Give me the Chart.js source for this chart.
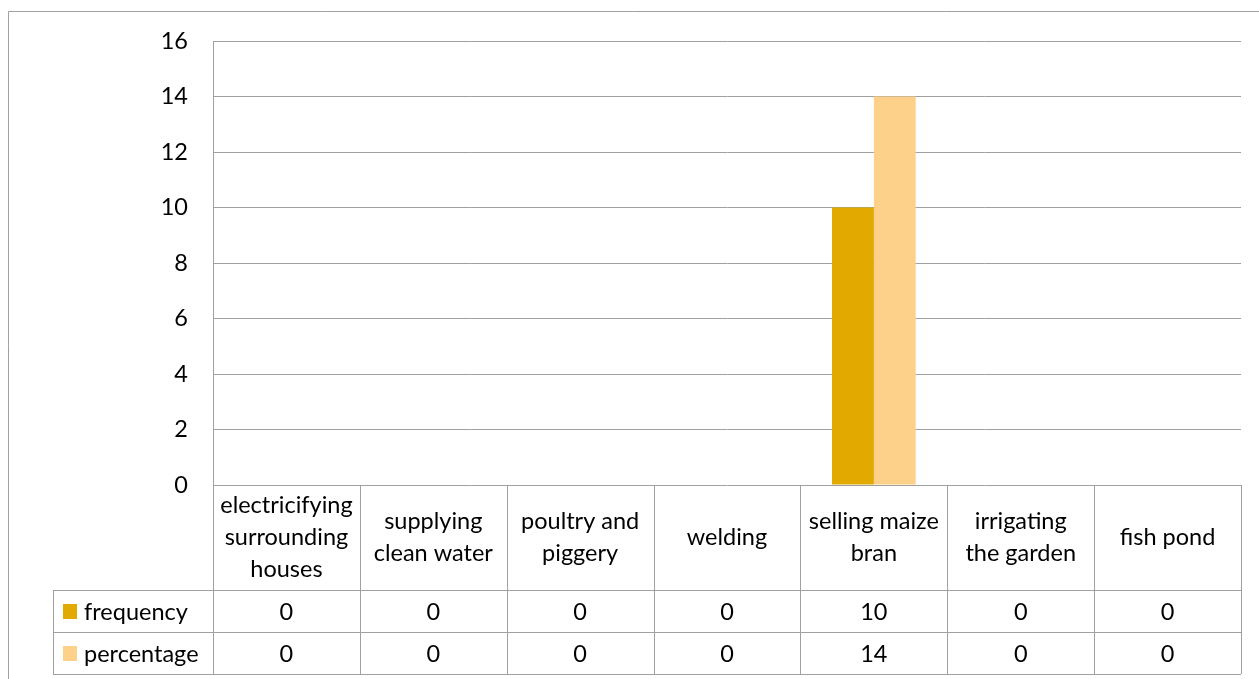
<!DOCTYPE html>
<html>
<head>
<meta charset="utf-8">
<script src="https://cdn.jsdelivr.net/npm/chart.js@4.4.1/dist/chart.umd.min.js"></script>
<style>
  html, body { margin: 0; padding: 0; background: #fff; overflow: hidden; }
  #wrap { position: relative; width: 1259px; height: 679px; }
</style>
</head>
<body>
<div id="wrap"><canvas id="chart" width="1259" height="679"></canvas></div>
<script>
// categories (line-wrapped as in the data table header)
const categories = [
    ['electricifying', 'surrounding', 'houses'],
    ['supplying', 'clean water'],
    ['poultry and', 'piggery'],
    ['welding'],
    ['selling maize', 'bran'],
    ['irrigating', 'the garden'],
    ['fish pond']
];
const seriesNames = ['frequency', 'percentage'];
const frequency = [0, 0, 0, 0, 10, 0, 0];
const percentage = [0, 0, 0, 0, 14, 0, 0];
const seriesColors = ['#E2A900', '#FED18A'];
const yTicks = [0, 2, 4, 6, 8, 10, 12, 14, 16];

const FONT = 'Lato, "Open Sans", sans-serif';
const FONT_SIZE = 23.5;
const LINE = '#A0A0A0';

// Draws the frame and the data table under the plot
const dataTable = {
    id: 'dataTable',
    afterDraw(chart) {
        const ctx = chart.ctx;
        const x = chart.scales.x;
        const area = chart.chartArea;
        const n = categories.length;
        const step = (area.right - area.left) / n;
        const headTop = area.bottom;
        const headBottom = headTop + 105;
        const rowH = 42;
        const legendLeft = 53;
        const tableBottom = headBottom + rowH * 2;

        ctx.save();
        ctx.strokeStyle = LINE;
        ctx.lineWidth = 1;

        // outer frame
        ctx.beginPath();
        ctx.moveTo(8.5, 679);
        ctx.lineTo(8.5, 11.5);
        ctx.lineTo(1259, 11.5);
        ctx.stroke();

        ctx.beginPath();
        // column lines
        for (let i = 0; i <= n; i++) {
            const cx = Math.round(area.left + step * i) + 0.5;
            ctx.moveTo(cx, headTop);
            ctx.lineTo(cx, tableBottom);
        }
        // legend column left edge
        ctx.moveTo(legendLeft + 0.5, headBottom);
        ctx.lineTo(legendLeft + 0.5, tableBottom);
        // row lines
        for (let r = 0; r <= 2; r++) {
            const ry = Math.round(headBottom + rowH * r) + 0.5;
            ctx.moveTo(legendLeft, ry);
            ctx.lineTo(area.right, ry);
        }
        ctx.stroke();

        ctx.fillStyle = '#000';
        ctx.font = FONT_SIZE + 'px ' + FONT;
        ctx.textAlign = 'center';
        ctx.textBaseline = 'middle';

        // header: category names
        const lh = 32;
        categories.forEach((lines, i) => {
            const cx = x.getPixelForValue(i);
            const cy = (headTop + headBottom) / 2 - (lines.length - 1) * lh / 2;
            lines.forEach((t, k) => ctx.fillText(t, cx, cy + k * lh));
        });

        // value rows
        const rows = [frequency, percentage];
        rows.forEach((vals, r) => {
            const cy = headBottom + rowH * r + rowH / 2 + 1;
            vals.forEach((v, i) => ctx.fillText(String(v), x.getPixelForValue(i), cy));
            // legend key + series name
            ctx.fillStyle = seriesColors[r];
            ctx.fillRect(63, cy - 8, 14, 15);
            ctx.fillStyle = '#000';
            ctx.textAlign = 'left';
            ctx.fillText(seriesNames[r], 84, cy);
            ctx.textAlign = 'center';
        });
        ctx.restore();
    }
};

new Chart(document.getElementById('chart'), {
    type: 'bar',
    data: {
        labels: categories,
        datasets: [
            { label: seriesNames[0], data: frequency, backgroundColor: seriesColors[0] },
            { label: seriesNames[1], data: percentage, backgroundColor: seriesColors[1] }
        ]
    },
    options: {
        responsive: false,
        animation: false,
        devicePixelRatio: 1,
        layout: { padding: { left: 0, top: 41, right: 18, bottom: 194 } },
        datasets: { bar: { categoryPercentage: 0.57, barPercentage: 1.0 } },
        plugins: { legend: { display: false }, tooltip: { enabled: false } },
        scales: {
            x: {
                ticks: { display: false },
                grid: { display: false, drawTicks: false },
                border: { display: false }
            },
            y: {
                min: 0,
                max: 16,
                afterFit(scale) { scale.width = 213; },
                afterBuildTicks(scale) { scale.ticks = yTicks.map(v => ({ value: v })); },
                ticks: { color: '#000', font: { family: FONT, size: FONT_SIZE }, padding: 25 },
                grid: { color: LINE, drawTicks: false },
                border: { display: true, color: LINE }
            }
        }
    },
    plugins: [dataTable]
});
</script>
</body>
</html>
